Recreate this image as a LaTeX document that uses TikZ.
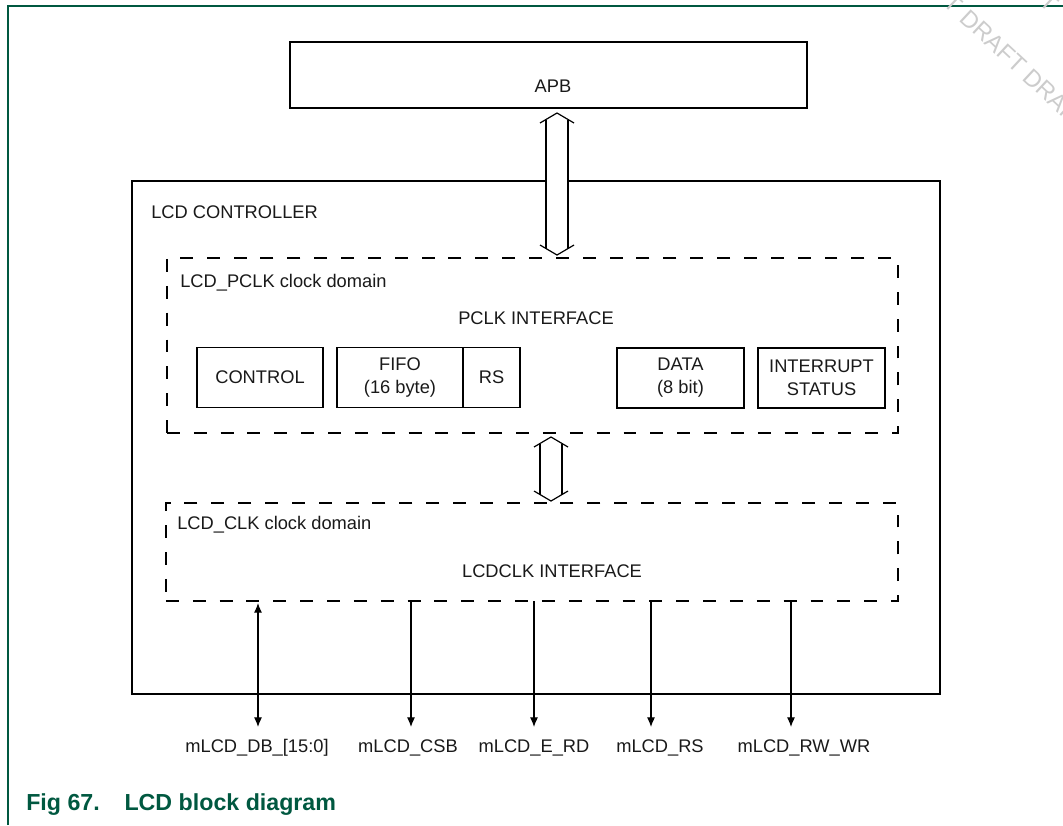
\documentclass[tikz,border=0pt]{standalone}
\usepackage{fontspec}
\setmainfont{Liberation Sans}
\usepackage{tikz}
\usetikzlibrary{positioning,arrows.meta}
\definecolor{nxpgreen}{RGB}{0,88,64}
% hollow double-headed bus arrow: x, top tip, bottom tip
\newcommand{\busarrow}[3]{%
  \fill[white] (#1,#2) -- (#1+11,#2+6.5) -- (#1+11,#3-6.5) -- (#1,#3)
    -- (#1-11,#3-6.5) -- (#1-11,#2+6.5) -- cycle;
  \draw[busline] (#1-17,#2+10) -- (#1,#2) -- (#1+17,#2+10);
  \draw[busline] (#1-17,#3-10) -- (#1,#3) -- (#1+17,#3-10);
  \draw[busline] (#1-11,#2+6.5) -- (#1-11,#3-6.5);
  \draw[busline] (#1+11,#2+6.5) -- (#1+11,#3-6.5);}

\begin{document}
\begin{tikzpicture}[>={Latex[length=2.4mm,width=2mm]},x=0.025cm,y=-0.025cm,
  txt/.style={text=black!90,font=\fontsize{13}{16.3}\selectfont,inner sep=0pt},
  box/.style={draw,line width=1.6pt,inner sep=0pt,outer sep=0pt},
  unit/.style={draw,line width=1.3pt,minimum height=1.5cm,align=center,
    inner sep=0pt,text=black!90,font=\fontsize{13}{16.3}\selectfont},
  clkdomain/.style={draw,line width=1.8pt,dash pattern=on 9.2pt off 9.9pt,
    inner sep=0pt,outer sep=0pt},
  busline/.style={line width=0.85pt},
  wmark/.style={rotate=-43,text=black!20,font=\fontsize{17}{17}\selectfont,inner sep=0pt},
  sig/.style={line width=0.8pt}]
  \useasboundingbox (0,0) rectangle (1063,825);
  % page frame
  \draw[nxpgreen,line width=1.4pt] (8,825) -- (8,6) -- (1063,6);
  % watermark
  \node[wmark,anchor=west] (wm) at (964,14) {DRAFT DRAFT};
  \node[wmark,anchor=east] (wm1) at (959,9) {DRAFT};
  \node[wmark,anchor=east] (wm2) at (1055,8) {DRAFT};
  % APB
  \node[box,minimum width=12.925cm,minimum height=1.65cm] (apb) at (548.5,75) {};
  \node[txt] (apbtxt) at (553,86) {APB};
  % LCD controller
  \node[box,minimum width=20.2cm,minimum height=12.825cm] (ctrl) at (536,437.5) {};
  \node[txt,anchor=west] (ctrltxt) at (151,212) {LCD CONTROLLER};
  % PCLK clock domain
  \node[clkdomain,minimum width=18.275cm,minimum height=4.375cm] (pclk) at (532.5,345.5) {};
  \node[txt,anchor=west] (pclktxt) at (180,283) {LCD\_PCLK clock domain};
  \node[txt] (pclkif) at (536,318) {PCLK INTERFACE};
  \node[unit,minimum width=3.15cm] (control) at (260,377.5) {CONTROL};
  \node[unit,minimum width=3.15cm] (fifo) at (400,377.5) {FIFO\\(16 byte)};
  \node[unit,minimum width=1.425cm] (rs) at (491.5,377.5) {RS};
  \node[unit,minimum width=3.175cm] (data) at (680.5,378) {DATA\\(8 bit)};
  \node[unit,minimum width=3.175cm] (intr) at (821.5,378) {INTERRUPT\\STATUS};
  % LCDCLK clock domain
  \node[clkdomain,minimum width=18.3cm,minimum height=2.45cm] (lcdclk) at (532,552) {};
  \node[txt,anchor=west] (lcdclktxt) at (177,525) {LCD\_CLK clock domain};
  \node[txt] (lcdclkif) at (552,571) {LCDCLK INTERFACE};
  % bus arrows
  \busarrow{557}{113}{255}
  \busarrow{551}{437}{501}
  % pins
  \node[txt] (db) at (257,748) {mLCD\_DB\_[15:0]};
  \node[txt] (csb) at (408,748) {mLCD\_CSB};
  \node[txt] (erd) at (534,748) {mLCD\_E\_RD};
  \node[txt] (rsp) at (660,748) {mLCD\_RS};
  \node[txt] (rw) at (804,748) {mLCD\_RW\_WR};
  \coordinate (dbend) at (258,727);
  \coordinate (csbend) at (411,727);
  \coordinate (erdend) at (534,727);
  \coordinate (rsend) at (651,727);
  \coordinate (rwend) at (791,727);
  \draw[sig,<->] ([yshift=-0.05cm]lcdclk.south -| dbend) -- (dbend);
  \draw[sig,->] (lcdclk.south -| csbend) -- (csbend);
  \draw[sig,->] (lcdclk.south -| erdend) -- (erdend);
  \draw[sig,->] (lcdclk.south -| rsend) -- (rsend);
  \draw[sig,->] (lcdclk.south -| rwend) -- (rwend);
  % caption
  \node[anchor=west,text=nxpgreen,font=\fontsize{16.5}{18}\selectfont\bfseries,inner sep=0pt]
    (caption) at (26,805) {Fig 67.\hspace{0.62cm}LCD block diagram};
\end{tikzpicture}
\end{document}
